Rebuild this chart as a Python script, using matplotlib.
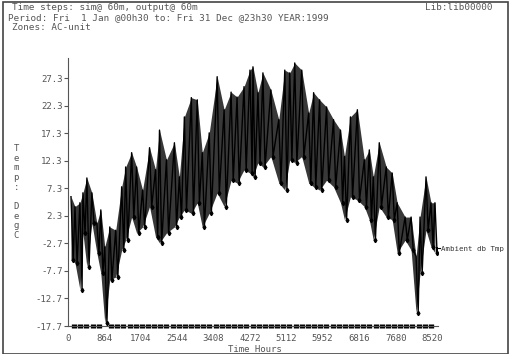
import numpy as np
import matplotlib.pyplot as plt
from matplotlib.patches import Rectangle

# hourly ambient dry bulb, read as (hour, daily-ish high, low) envelope
hours = [70, 163, 279, 349, 442, 559, 675, 768, 861, 978, 1117, 1257, 1350, 1490,
         1606, 1746, 1909, 2049, 2142, 2305, 2491, 2607, 2724, 2887, 3026, 3143,
         3306, 3492, 3655, 3818, 3958, 4121, 4260, 4330, 4446, 4563, 4749, 4935,
         5075, 5191, 5308, 5471, 5634, 5750, 5890, 6053, 6216, 6379, 6472, 6612,
         6774, 6937, 7054, 7147, 7287, 7450, 7589, 7706, 7892, 8032, 8148, 8241,
         8381, 8497, 8590]
t_high = [5.8, 4.0, 4.7, 6.5, 9.2, 6.5, 1.0, 3.4, -3.3, 0.3, -0.3, 7.6, 11.2, 13.8,
          11.2, 7.0, 14.7, 10.7, 17.9, 12.5, 15.6, 9.4, 20.3, 23.8, 23.4, 13.8,
          17.4, 27.6, 21.6, 24.8, 23.9, 25.8, 28.8, 29.4, 24.7, 28.3, 25.2, 19.8,
          28.8, 28.3, 30.1, 28.8, 21.0, 24.7, 23.4, 22.1, 19.8, 17.9, 13.1, 20.3,
          21.6, 12.5, 14.3, 9.4, 15.6, 11.2, 10.1, 4.7, 2.1, 2.1, -5.1, 2.1,
          9.4, 4.7, 4.7]
t_low = [-5.7, -6.2, -11.1, -0.8, -7.0, 1.0, -4.4, -8.1, -17.2, -9.3, -8.8, -3.9, -2.1, 2.1,
         -0.8, 0.3, 4.0, -1.5, -2.6, -0.8, 0.3, 2.1, 3.4, 2.8, 4.7, 0.3,
         2.8, 6.5, 4.0, 8.8, 8.3, 10.7, 10.1, 9.4, 12.0, 11.2, 13.1, 8.3,
         7.0, 12.5, 12.0, 13.1, 8.3, 7.6, 7.0, 8.8, 7.6, 4.7, 1.6, 5.8,
         5.2, 4.0, 1.6, -2.1, 4.0, 2.1, 1.6, -4.4, -2.1, -3.9, -15.3, -8.1,
         -0.3, -3.3, -4.4]
last_hour = 8640
last_value = -3.5

yticks = [27.3, 22.3, 17.3, 12.3, 7.3, 2.3, -2.7, -7.7, -12.7, -17.7]
xticks = [0, 864, 1704, 2544, 3408, 4272, 5112, 5952, 6816, 7680, 8520]

mono = 'DejaVu Sans Mono'
grey = '#555555'

fig = plt.figure(figsize=(5.11, 3.54), dpi=100)
ax = fig.add_axes([68/511, 28/354, 369.5/511, 268/354])

# zigzag between highs and lows
h = np.array(hours, dtype=float)
xs = np.ravel(np.column_stack([h, h + 50]))
ys = np.ravel(np.column_stack([t_high, t_low]))
xs = np.append(xs, last_hour)
ys = np.append(ys, last_value)

ax.fill_between(h, t_low, t_high, color='black', alpha=0.78, lw=0)
ax.plot(xs, ys, color='black', lw=1.0, marker='d', markersize=2.2, markevery=(1, 2))

ax.set_xlim(0, 8650)
ax.set_ylim(-17.7, 31.0)
ax.set_xticks(xticks)
ax.set_xticklabels([str(v) for v in xticks], family=mono, fontsize=6.5, color=grey)
ax.set_yticks(yticks)
ax.set_yticklabels([f'{v:.1f}' for v in yticks], family=mono, fontsize=6.5, color=grey)
ax.set_xticks(np.arange(0, 8640, 144), minor=True)
ax.tick_params(axis='x', which='minor', length=3, width=3.8, direction='inout', color='black')
ax.tick_params(axis='x', which='major', length=0, pad=6)
ax.tick_params(axis='y', length=3, width=0.8, color=grey, pad=1)

for s in ['top', 'right']:
    ax.spines[s].set_visible(False)
ax.spines['left'].set_color(grey)
ax.spines['bottom'].set_color(grey)

# stacked y label like the original
ax.text(-0.14, 0.5, 'T\ne\nm\np\n:\n \nD\ne\ng\nC', transform=ax.transAxes,
        family=mono, fontsize=6.5, color=grey, ha='center', va='center', linespacing=1.1)
fig.text(255/511, 1 - 349/354, 'Time Hours', family=mono, fontsize=6.5, color=grey,
         ha='center', va='center')

# series label at the end
ax.plot([last_hour, 8700], [last_value, last_value], color='black', lw=0.8, clip_on=False)
fig.text(441/511, 1 - 249/354, 'Ambient db Tmp', family=mono, fontsize=5.3, color='#333333',
         va='center', ha='left')

# header
fig.text(12/511, 1 - 8/354, 'Time steps: sim@ 60m, output@ 60m', family=mono,
         fontsize=6.7, color=grey, va='center')
fig.text(425/511, 1 - 8/354, 'Lib:lib00000', family=mono, fontsize=6.7, color=grey, va='center')
fig.text(8/511, 1 - 18/354, 'Period: Fri  1 Jan @00h30 to: Fri 31 Dec @23h30 YEAR:1999',
         family=mono, fontsize=6.7, color=grey, va='center')
fig.text(12/511, 1 - 28/354, 'Zones: AC-unit', family=mono, fontsize=6.7, color=grey, va='center')

# window frame
fig.patches.append(Rectangle((3/511, 0), 505/511, 1 - 2/354, transform=fig.transFigure,
                             fill=False, edgecolor='#444444', lw=1.2))

fig.savefig('out.png', dpi=100)
